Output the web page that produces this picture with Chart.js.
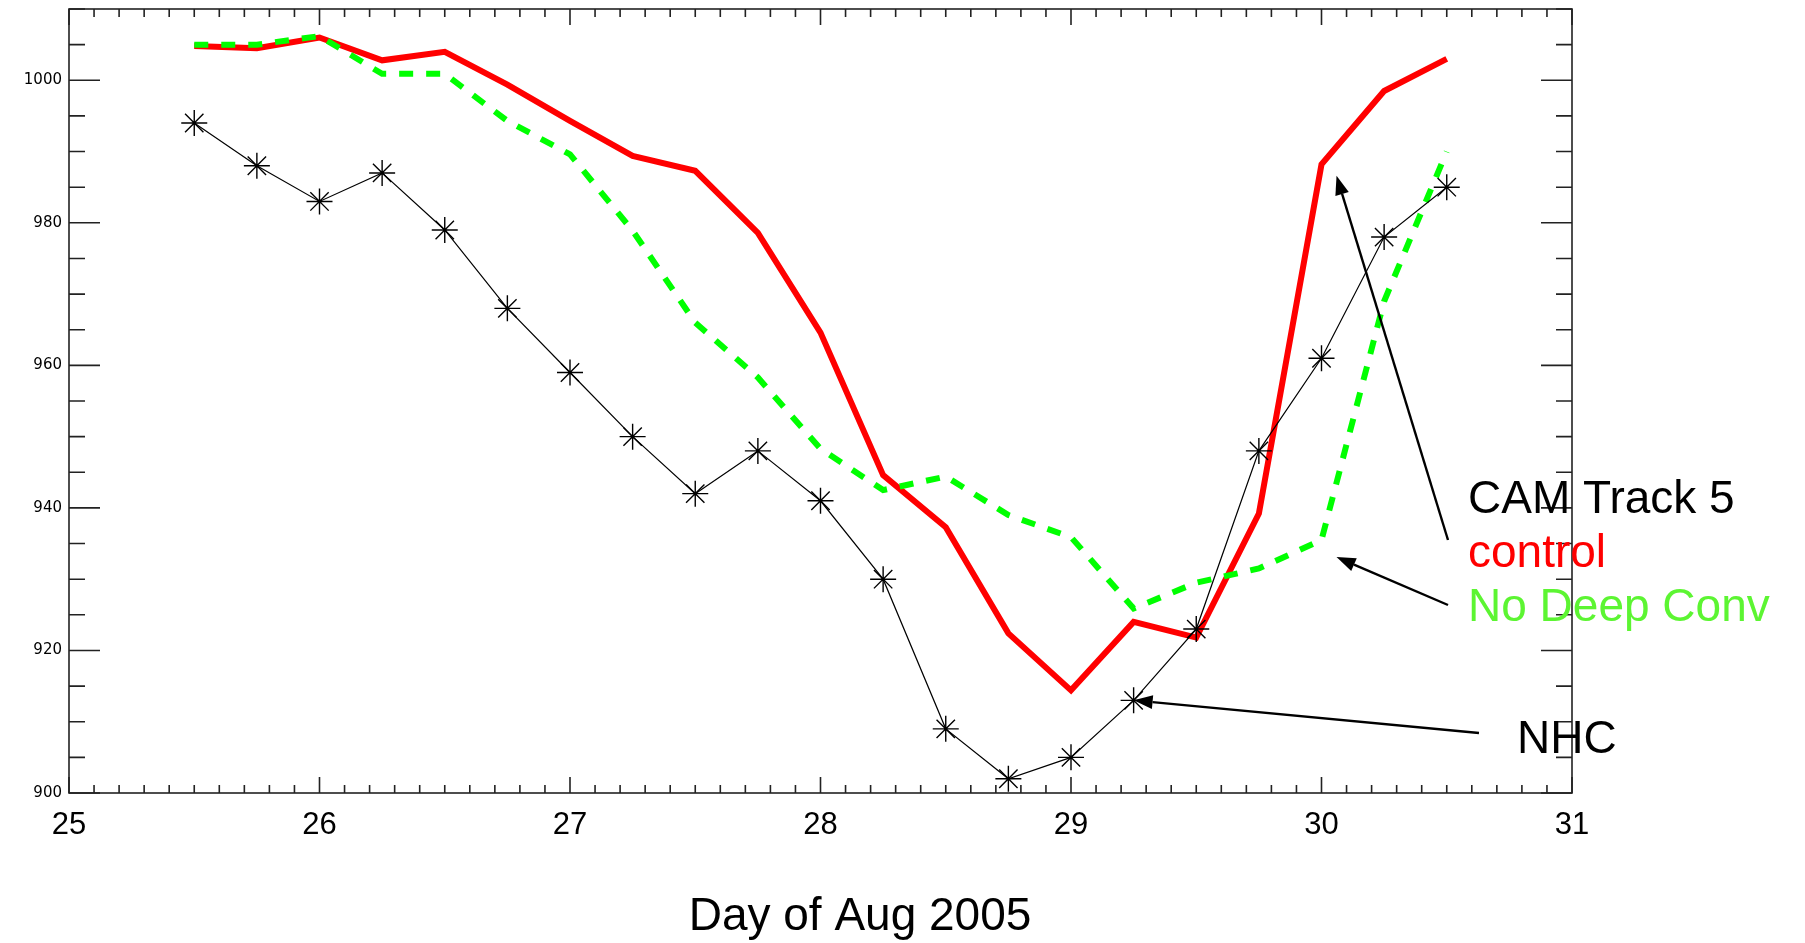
<!DOCTYPE html>
<html>
<head>
<meta charset="utf-8">
<script src="https://cdn.jsdelivr.net/npm/chart.js@4.4.0/dist/chart.umd.min.js"></script>
<style>
  html, body { margin: 0; padding: 0; background: #fff; }
  #wrap { width: 1805px; height: 943px; }
</style>
</head>
<body>
<div id="wrap"><canvas id="pressureChart" width="1805" height="943"></canvas></div>
<script>
// Day of Aug 2005, every 6 hours
const days = [25.5, 25.75, 26, 26.25, 26.5, 26.75, 27, 27.25, 27.5, 27.75, 28,
              28.25, 28.5, 28.75, 29, 29.25, 29.5, 29.75, 30, 30.25, 30.5];

// minimum central pressure
const nhcValues = [994, 988, 983, 987, 979, 968, 959, 950, 942, 948, 941,
                   930, 909, 902, 905, 913, 923, 948, 961, 978, 985];
const controlValues = [1004.8, 1004.5, 1006, 1002.8, 1004, 999.4, 994.3, 989.4, 987.3, 978.6, 964.6,
                       944.6, 937.3, 922.4, 914.4, 924, 921.8, 939.2, 988.2, 998.5, 1003];
const noDeepConvValues = [1005, 1005, 1006.2, 1000.9, 1000.9, 994.3, 989.6, 978.9, 966, 958.3, 948.3,
                          942.5, 944.4, 939, 935.9, 925.9, 929.5, 931.5, 935.5, 969, 990];

const xTickLabels = [25, 26, 27, 28, 29, 30, 31];
const yTickLabels = [900, 920, 940, 960, 980, 1000];

const legendLines = ['CAM Track 5', 'control', 'No Deep Conv'];
const legendColors = ['#000000', '#ff0000', '#5cf532'];

const FONT = "'Liberation Sans', Arial, sans-serif";

function pts(vals) {
    return days.map((d, i) => ({ x: d, y: vals[i] }));
}

function drawArrow(ctx, x0, y0, x1, y1) {
    const ang = Math.atan2(y1 - y0, x1 - x0);
    const c = Math.cos(ang), s = Math.sin(ang);
    const head = 19, half = 7;
    ctx.beginPath();
    ctx.moveTo(x0, y0);
    ctx.lineTo(x1 - head * c, y1 - head * s);
    ctx.stroke();
    ctx.beginPath();
    ctx.moveTo(x1, y1);
    ctx.lineTo(x1 - head * c + half * s, y1 - head * s - half * c);
    ctx.lineTo(x1 - head * c - half * s, y1 - head * s + half * c);
    ctx.closePath();
    ctx.fill();
}

// box, inward ticks, labels and arrows
const decorations = {
    id: 'decorations',
    afterDatasetsDraw(chart) {
        const { ctx, chartArea: a, scales: { x, y } } = chart;
        ctx.save();
        ctx.strokeStyle = '#222';
        ctx.lineWidth = 1.6;
        ctx.strokeRect(a.left, a.top, a.right - a.left, a.bottom - a.top);

        ctx.beginPath();
        for (let i = 250; i <= 310; i++) {
            const px = x.getPixelForValue(i / 10);
            const len = i % 10 === 0 ? 16 : 8;
            ctx.moveTo(px, a.bottom); ctx.lineTo(px, a.bottom - len);
            ctx.moveTo(px, a.top); ctx.lineTo(px, a.top + len);
        }
        for (let v = 900; v <= 1010; v += 5) {
            const py = y.getPixelForValue(v);
            const len = v % 20 === 0 ? 31 : 16;
            ctx.moveTo(a.left, py); ctx.lineTo(a.left + len, py);
            ctx.moveTo(a.right, py); ctx.lineTo(a.right - len, py);
        }
        ctx.stroke();

        // axis title
        ctx.fillStyle = '#000';
        ctx.font = '46px ' + FONT;
        ctx.textAlign = 'center';
        ctx.textBaseline = 'alphabetic';
        ctx.fillText('Day of Aug 2005', 860, 930);

        // annotation text
        ctx.textAlign = 'left';
        legendLines.forEach((t, i) => {
            ctx.fillStyle = legendColors[i];
            ctx.fillText(t, 1468, 513 + i * 54);
        });
        ctx.fillStyle = '#000';
        ctx.fillText('NHC', 1517, 753);

        // arrows
        ctx.strokeStyle = '#000';
        ctx.fillStyle = '#000';
        ctx.lineWidth = 2.4;
        drawArrow(ctx, 1448, 540, x.getPixelForValue(30.06), y.getPixelForValue(986.6));
        drawArrow(ctx, 1448, 605, x.getPixelForValue(30.06), y.getPixelForValue(933.1));
        drawArrow(ctx, 1479, 733, x.getPixelForValue(29.25), y.getPixelForValue(913));
        ctx.restore();
    }
};

const ctx = document.getElementById('pressureChart').getContext('2d');

new Chart(ctx, {
    type: 'line',
    data: {
        datasets: [
            {
                label: 'NHC',
                data: pts(nhcValues),
                borderColor: '#000',
                borderWidth: 1.2,
                pointStyle: 'star',
                pointRadius: 13,
                pointBorderWidth: 1.4,
                pointBorderColor: '#000',
                pointBackgroundColor: '#000',
                order: 0
            },
            {
                label: 'No Deep Conv',
                data: pts(noDeepConvValues),
                borderColor: '#00ff00',
                borderWidth: 6,
                borderDash: [14, 13],
                pointRadius: 0,
                order: 1
            },
            {
                label: 'control',
                data: pts(controlValues),
                borderColor: '#ff0000',
                borderWidth: 6,
                pointRadius: 0,
                order: 2
            }
        ]
    },
    options: {
        responsive: false,
        animation: false,
        devicePixelRatio: 1,
        layout: { autoPadding: false, padding: { left: 0, right: 233, top: 9, bottom: 0 } },
        plugins: {
            legend: { display: false },
            tooltip: { enabled: false }
        },
        scales: {
            x: {
                type: 'linear',
                min: 25,
                max: 31,
                grid: { display: false, drawTicks: false },
                border: { display: false },
                afterBuildTicks: (scale) => { scale.ticks = xTickLabels.map(v => ({ value: v })); },
                afterFit: (scale) => {
                    scale.height = 150;
                    scale.paddingLeft = 0;
                    scale.paddingRight = 0;
                },
                ticks: {
                    color: '#000',
                    padding: 14,
                    maxRotation: 0,
                    callback: (v) => String(v),
                    font: { family: FONT, size: 31 }
                }
            },
            y: {
                min: 900,
                max: 1010,
                grid: { display: false, drawTicks: false },
                border: { display: false },
                afterBuildTicks: (scale) => { scale.ticks = yTickLabels.map(v => ({ value: v })); },
                afterFit: (scale) => {
                    scale.width = 69;
                    scale.paddingTop = 0;
                    scale.paddingBottom = 0;
                },
                ticks: {
                    color: '#000',
                    padding: 7,
                    callback: (v) => String(v),
                    font: { family: "'DejaVu Sans', sans-serif", size: 15 }
                }
            }
        }
    },
    plugins: [decorations]
});
</script>
</body>
</html>
